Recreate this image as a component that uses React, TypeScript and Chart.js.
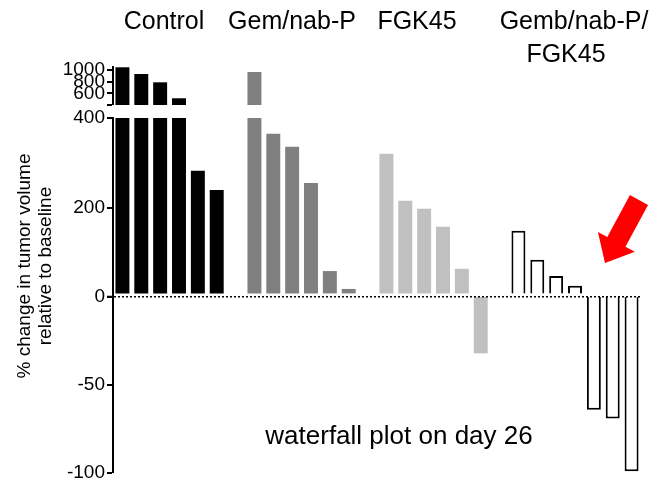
import React, { useEffect, useRef } from 'react';
import { Chart, registerables } from 'chart.js';

Chart.register(...registerables);

const FONT = "'Liberation Sans', Arial, Helvetica, sans-serif";

// ---- data ----
const groupLabels = ['Control', 'Gem/nab-P', 'FGK45', 'Gemb/nab-P/', 'FGK45'];
const controlValues = [1045, 930, 788, 515, 282, 239];
const gemNabPValues = [965, 365, 336, 255, 58, 18];
const fgk45Values = [320, 215, 197, 157, 63, -32];
const comboValues = [148, 83, 47, 25, -64, -69, -99];
const groupFill = ['#000000', '#808080', '#c0c0c0', '#ffffff'];
const groupEdge = ['#000000', '#808080', '#c0c0c0', '#000000'];
const groupEdgeWidth = [0, 0, 0, 2];
const topTicks = [400, 600, 800, 1000];
const midTicks = [0, 200, 400];
const negTicks = [-100, -50, 0];
const yTitle = ['% change in tumor volume', 'relative to baseline'];
const footnote = 'waterfall plot on day 26';

// build slot table (one empty slot between groups)
const groupValues = [controlValues, gemNabPValues, fgk45Values, comboValues];
const values: (number | null)[] = [];
const slotGroup: number[] = [];
groupValues.forEach((arr, g) => {
  if (g > 0) {
    values.push(null);
    slotGroup.push(-1);
  }
  arr.forEach((v) => {
    values.push(v);
    slotGroup.push(g);
  });
});
const categories = values.map((_, i) => `#${i + 1}`);
const fills = slotGroup.map((g) => (g < 0 ? 'rgba(0,0,0,0)' : groupFill[g]));
const edges = slotGroup.map((g) => (g < 0 ? 'rgba(0,0,0,0)' : groupEdge[g]));
const edgeWidths = slotGroup.map((g) => (g < 0 ? 0 : groupEdgeWidth[g]));

const TOP_MIN = 400;
const TOP_MAX = 1050;
const MID_MAX = 400;

const topData = values.map((v) => (v !== null && v > TOP_MIN ? v : null));
const midData = values.map((v) => (v !== null && v > 0 ? Math.min(v, MID_MAX) : null));
const negData = values.map((v) => (v !== null && v < 0 ? v : null));

const AXIS_W = 60;

const tickFont = { family: FONT, size: 19 };

const baseAxis = (weight: number, stackWeight: number, min: number, max: number, ticks: number[], hideLabel: number | null) => ({
  type: 'linear',
  position: 'left',
  stack: 'y',
  stackWeight,
  weight,
  min,
  max,
  afterBuildTicks: (scale: any) => {
    scale.ticks = ticks.map((value) => ({ value }));
  },
  afterFit: (scale: any) => {
    scale.width = AXIS_W;
    scale.paddingTop = 0;
    scale.paddingBottom = 0;
  },
  ticks: {
    autoSkip: false,
    font: tickFont,
    color: '#000',
    padding: 2,
    callback: (v: any) => (v === hideLabel ? '' : String(v)),
  },
  grid: {
    drawOnChartArea: false,
    drawTicks: true,
    tickLength: 6,
    tickWidth: 2,
    tickColor: '#000',
    lineWidth: 0,
  },
  border: { display: true, color: '#000', width: 2 },
});

const annotationPlugin = {
  id: 'annotations',
  afterDraw(chart: any) {
    const ctx = chart.ctx as CanvasRenderingContext2D;
    ctx.save();
    ctx.fillStyle = '#000';
    ctx.textAlign = 'center';
    ctx.textBaseline = 'middle';

    // y axis title (rotated)
    ctx.font = `19px ${FONT}`;
    ctx.save();
    ctx.translate(0, 266);
    ctx.rotate(-Math.PI / 2);
    ctx.fillText(yTitle[0], 0, 25);
    ctx.fillText(yTitle[1], 0, 46);
    ctx.restore();

    // group labels
    ctx.font = `25px ${FONT}`;
    const labelPos = [
      [164, 22],
      [292, 22],
      [417, 22],
      [574, 22],
      [566, 55],
    ];
    groupLabels.forEach((t, i) => ctx.fillText(t, labelPos[i][0], labelPos[i][1]));

    // footnote
    ctx.font = `26px ${FONT}`;
    ctx.fillText(footnote, 399, 437);

    // red arrow
    const T = [639, 200];
    const P = [605, 263];
    const dx = P[0] - T[0];
    const dy = P[1] - T[1];
    const L = Math.hypot(dx, dy);
    const u = [dx / L, dy / L];
    const n = [-u[1], u[0]];
    const headLen = 24;
    const w = 10.3;
    const H = 21;
    const B = [P[0] - u[0] * headLen, P[1] - u[1] * headLen];
    const pts = [
      [T[0] + n[0] * w, T[1] + n[1] * w],
      [B[0] + n[0] * w, B[1] + n[1] * w],
      [B[0] + n[0] * H, B[1] + n[1] * H],
      [P[0], P[1]],
      [B[0] - n[0] * H, B[1] - n[1] * H],
      [B[0] - n[0] * w, B[1] - n[1] * w],
      [T[0] - n[0] * w, T[1] - n[1] * w],
    ];
    ctx.fillStyle = '#ff0000';
    ctx.beginPath();
    pts.forEach((p, i) => (i === 0 ? ctx.moveTo(p[0], p[1]) : ctx.lineTo(p[0], p[1])));
    ctx.closePath();
    ctx.fill();
    ctx.restore();
  },
};

export default function App() {
  const canvasRef = useRef<HTMLCanvasElement | null>(null);

  useEffect(() => {
    const canvas = canvasRef.current;
    if (!canvas) return;
    const barCommon = {
      type: 'bar',
      backgroundColor: fills,
      borderColor: edges,
      borderWidth: edgeWidths,
      grouped: false,
      barPercentage: 0.74,
      categoryPercentage: 1,
    };
    const midAxis: any = baseAxis(2, 179, 0, MID_MAX, midTicks, null);
    midAxis.grid = {
      ...midAxis.grid,
      drawOnChartArea: true,
      z: 1,
      color: (c: any) => (c.tick && c.tick.value === 0 ? '#000' : 'rgba(0,0,0,0)'),
      lineWidth: (c: any) => (c.tick && c.tick.value === 0 ? 1.5 : 0),
    };
    midAxis.border = {
      ...midAxis.border,
      z: 2,
      dash: (c: any) => (c.tick && c.tick.value === 0 ? [2, 2] : []),
    };

    const chart = new Chart(canvas, {
      type: 'bar',
      data: {
        labels: categories,
        datasets: [
          { ...barCommon, label: 'above 400', data: topData, yAxisID: 'yTop' } as any,
          { ...barCommon, label: '0 to 400', data: midData, yAxisID: 'yMid', base: 8 } as any,
          { ...barCommon, label: 'below 0', data: negData, yAxisID: 'yNeg' } as any,
        ],
      },
      options: {
        animation: false,
        responsive: false,
        devicePixelRatio: 1,
        layout: { padding: { left: 113 - AXIS_W, top: 67, right: 22, bottom: 7 } },
        plugins: {
          legend: { display: false },
          tooltip: { enabled: false },
        },
        scales: {
          x: {
            type: 'category',
            display: false,
            offset: true,
            grid: { display: false },
          },
          yTop: baseAxis(4, 38, TOP_MIN, TOP_MAX, topTicks, 400) as any,
          yGap: {
            type: 'linear',
            position: 'left',
            stack: 'y',
            stackWeight: 13,
            weight: 3,
            display: false,
            min: 0,
            max: 1,
          } as any,
          yMid: midAxis,
          yNeg: baseAxis(1, 176, -100, 0, negTicks, 0) as any,
        },
      } as any,
      plugins: [annotationPlugin],
    });
    return () => chart.destroy();
  }, []);

  return (
    <div style={{ position: 'fixed', left: 0, top: 0, width: 663, height: 480, background: '#fff' }}>
      <canvas ref={canvasRef} width={663} height={480} style={{ display: 'block' }} />
    </div>
  );
}
